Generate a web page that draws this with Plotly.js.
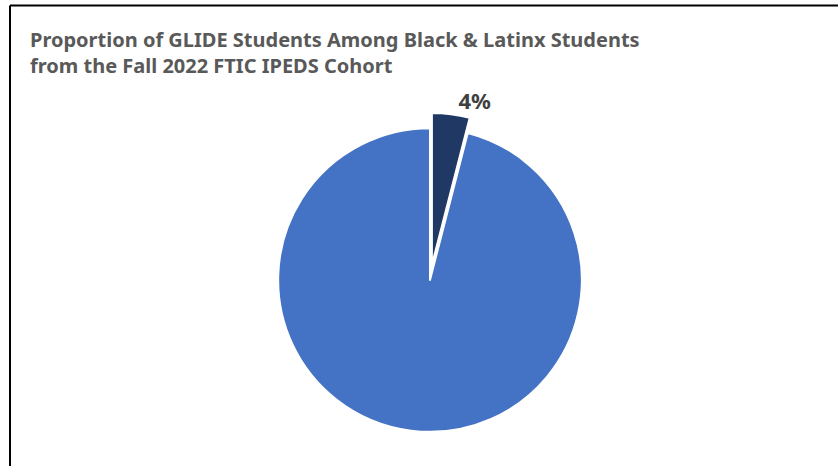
<!DOCTYPE html>
<html>
<head>
<meta charset="utf-8">
<script src="https://cdn.plot.ly/plotly-3.0.1.min.js"></script>
<style>html,body{margin:0;padding:0;background:#fff;}#chart{width:838px;height:466px;}</style>
</head>
<body>
<div id="chart"></div>
<script>
const categories = ["GLIDE Students", "Other Black & Latinx Students"];
const values = [4, 96];
const sliceLabels = ["%{percent:.0%}", ""];
const colors = ["#203864", "#4472C4"];

const trace = {
  type: "pie",
  labels: categories,
  values: values,
  sort: false,
  direction: "clockwise",
  rotation: 0,
  pull: [0.1, 0],
  marker: {colors: colors, line: {color: "#ffffff", width: 2}},
  texttemplate: sliceLabels,
  textposition: ["outside", "none"],
  textfont: {family: "Noto Sans, Open Sans, sans-serif", size: 22, color: "#404040", weight: "bold"},
  hoverinfo: "label+percent",
  showlegend: false,
  automargin: false,
  domain: {x: [263/838, 597/838], y: [19/466, 353/466]}
};

const layout = {
  width: 838, height: 466,
  margin: {l: 0, r: 0, t: 0, b: 0},
  paper_bgcolor: "#ffffff",
  showlegend: false,
  title: {
    text: "<b>Proportion of GLIDE Students Among Black & Latinx Students<br>from the Fall 2022 FTIC IPEDS Cohort</b>",
    x: 30/838, xanchor: "left", y: 1 - 47/466, yanchor: "middle",
    font: {family: "Noto Sans, Open Sans, sans-serif", size: 20, color: "#595959"}
  },
  shapes: [
    {type: "line", xref: "paper", yref: "paper", x0: 10/838, x1: 1, y0: 1 - 5.5/466, y1: 1 - 5.5/466, line: {color: "#000", width: 2}},
    {type: "line", xref: "paper", yref: "paper", x0: 10/838, x1: 10/838, y0: 0, y1: 1 - 5.5/466, line: {color: "#000", width: 2}}
  ]
};

Plotly.newPlot("chart", [trace], layout, {displayModeBar: false, staticPlot: true});
</script>
</body>
</html>
